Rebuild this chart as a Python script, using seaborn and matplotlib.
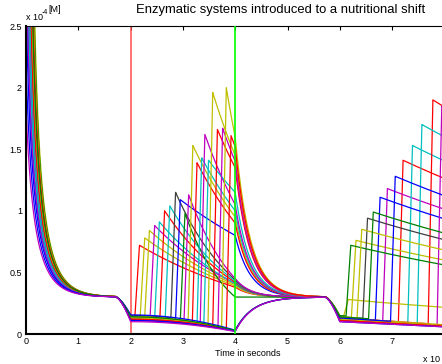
import numpy as np
import pandas as pd
import matplotlib
matplotlib.use("Agg")
import matplotlib.pyplot as plt
import seaborn as sns

# ---- curve colours (MATLAB-style line order) ----
B, G, R, C, M, Y, K = ("#0000ff", "#008000", "#ff0000", "#00bfbf",
                       "#bf00bf", "#bfbf00", "#404040")
curve_colors = [R, Y, Y, M, C, R, C, K, B, G, M, Y, R, C, M, C, Y, R, M, Y, R,
                B, G, B, M]

# time at which each curve falls through 1.0e-4 M during the first decay
cross_time = [0.30, 0.36, 0.33, 0.27, 0.29, 0.31, 0.25, 0.34, 0.23, 0.35,
              0.26, 0.32, 0.28, 0.24, 0.30, 0.27, 0.34, 0.29, 0.22, 0.31,
              0.33, 0.20, 0.32, 0.17, 0.14]

# level reached after the drop at t = 2 and at t = 6
low_level_1 = [0.13, 0.12, 0.14, 0.12, 0.13, 0.14, 0.12, 0.15, 0.14, 0.13,
               0.12, 0.14, 0.13, 0.12, 0.11, 0.13, 0.14, 0.12, 0.11, 0.13,
               0.12, 0.155, 0.14, 0.11, 0.10]
low_level_2 = [0.13, 0.14, 0.13, 0.12, 0.12, 0.13, 0.12, 0.14, 0.13, 0.15,
               0.12, 0.14, 0.12, 0.12, 0.11, 0.12, 0.13, 0.12, 0.11, 0.12,
               0.11, 0.13, 0.14, 0.10, 0.10]

# first shift: switch-on peak time, peak value, value just before t = 4
peak_time_1 = [2.17, 2.27, 2.36, 2.46, 2.55, 2.65, 2.75, 2.86, 2.95, 3.04,
               3.11, 3.19, 3.27, 3.36, 3.42, 3.49, 3.57, 3.66, 3.76, 3.83,
               3.92, None, None, None, None]
peak_value_1 = [0.72, 0.78, 0.84, 0.88, 0.91, 1.00, 1.04, 1.15, 1.09, 0.98,
                1.13, 1.53, 1.39, 1.43, 1.62, 1.41, 1.96, 1.66, 1.67, 2.00,
                1.61, None, None, None, None]
value_at_4 = [0.38, 0.39, 0.40, 0.41, 0.41, 0.42, 0.43, 0.44, 0.80, 0.30,
              0.45, 0.95, 0.90, 1.00, 1.05, 1.15, 1.45, 1.35, 1.40, 1.60,
              1.52, None, None, None, None]

# second shift: switch-on peak time and peak value
peak_time_2 = [7.21, 6.16, 6.31, 6.91, 7.39, 7.78, 7.57, 6.53, 6.77, 6.21,
               7.95, 6.42, None, None, None, None, None, None, None, None,
               None, 7.06, 6.64, None, None]
peak_value_2 = [1.41, 0.28, 0.76, 1.18, 1.53, 1.90, 1.70, 0.94, 1.11, 0.72,
                1.85, 0.85, None, None, None, None, None, None, None, None,
                None, 1.28, 0.99, None, None]

x_ticks = [0, 1, 2, 3, 4, 5, 6, 7, 8, 9, 10]
x_tick_labels = ["0", "1", "2", "3", "4", "5", "6", "7", "", "", ""]
y_ticks = [0, 0.5, 1, 1.5, 2, 2.5]
y_tick_labels = ["0", "0.5", "1", "1.5", "2", "2.5"]

BASE = 0.30            # steady-state concentration
RISE = 0.09            # duration of a switch-on ramp


def trajectory(t, i):
    v = np.empty_like(t)
    # initial consumption towards the steady state
    a, r = 3.5, 0.577
    c0 = (1 / 0.7 + r) * np.exp(-a * cross_time[i])
    u = c0 * np.exp(a * t) - r
    v_start = np.where(u > 0, BASE + 1 / np.maximum(u, 1e-9), 5.0)
    v[:] = np.minimum(v_start, 5.0)

    # drop after the first nutritional shift
    L1 = low_level_1[i]
    m = (t >= 1.72) & (t < 2.0)
    x = (t[m] - 1.72) / 0.28
    v[m] = BASE - (BASE - L1) * x ** 1.5

    # first shifted phase
    m = (t >= 2.0) & (t < 4.0)
    low = L1 * (1 - 0.2 * (t - 2.0) ** 2)
    v[m] = low[m]
    tp = peak_time_1[i]
    if tp is not None:
        P, v4 = peak_value_1[i], value_at_4[i]
        ts = tp - RISE
        rate = np.log(P / v4) / (4.0 - tp)
        lo_ts = L1 * (1 - 0.2 * (ts - 2.0) ** 2)
        mr = (t >= ts) & (t < tp)
        v[mr] = lo_ts + (P - lo_ts) * (t[mr] - ts) / RISE
        md = (t >= tp) & (t < 4.0)
        v[md] = P * np.exp(-rate * (t[md] - tp))
        end4 = v4
    else:
        end4 = L1 * (1 - 0.2 * 4.0)

    # relaxation back to the steady state
    m = (t >= 4.0) & (t < 5.72)
    k = 3.5 if end4 > BASE else 3.0
    v[m] = BASE + (end4 - BASE) * np.exp(-k * (t[m] - 4.0))
    v57 = BASE + (end4 - BASE) * np.exp(-k * 1.72)

    # drop after the second shift
    L2 = low_level_2[i]
    m = (t >= 5.72) & (t < 6.0)
    x = (t[m] - 5.72) / 0.28
    v[m] = v57 - (v57 - L2) * x ** 1.5

    # second shifted phase
    m = t >= 6.0
    low2 = L2 * (1 - 0.21 * (t - 6.0))
    v[m] = low2[m]
    tp = peak_time_2[i]
    if tp is not None:
        P = peak_value_2[i]
        ts = tp - RISE
        lo_ts = L2 * (1 - 0.21 * (ts - 6.0))
        mr = (t >= ts) & (t < tp)
        v[mr] = lo_ts + (P - lo_ts) * (t[mr] - ts) / RISE
        md = t >= tp
        v[md] = P * np.exp(-0.14 * (t[md] - tp))
    return v


key_times = [1.72, 2.0, 4.0, 5.72, 6.0]
for lst in (peak_time_1, peak_time_2):
    for tp in lst:
        if tp is not None:
            key_times += [tp - RISE, tp]
t = np.unique(np.concatenate([np.linspace(0, 10, 5001), key_times]))

frames = []
for i in range(len(curve_colors)):
    frames.append(pd.DataFrame({"t": t, "v": trajectory(t, i), "curve": i}))
df = pd.concat(frames, ignore_index=True)

sns.set_theme(style="white")
plt.rcParams["font.family"] = ["Liberation Sans", "DejaVu Sans"]

fig = plt.figure(figsize=(4.42, 3.64), dpi=100)
ax = fig.add_axes([26 / 442, 30 / 364, 523 / 442, 308 / 364])

palette = {i: c for i, c in enumerate(curve_colors)}
sns.lineplot(data=df, x="t", y="v", hue="curve", palette=palette,
             estimator=None, sort=False, legend=False, lw=0.9, ax=ax)

# shift markers
ax.axvline(2.0, color="#ff4d4d", lw=1.1, zorder=1)
ax.axvline(4.0, color="#00ff00", lw=1.2, zorder=5)

ax.set_xlim(0, 10)
ax.set_ylim(0, 2.5)
ax.set_xticks(x_ticks)
ax.set_xticklabels(x_tick_labels)
ax.set_yticks(y_ticks)
ax.set_yticklabels(y_tick_labels)
ax.set_xlabel("")
ax.set_ylabel("")
ax.tick_params(direction="in", top=True, right=True, length=3, width=0.8,
               labelsize=6.5, color="black", labelcolor="black")
ax.tick_params(axis="x", pad=2.5)
ax.tick_params(axis="y", pad=3)
for side, sp in ax.spines.items():
    sp.set_visible(True)
    sp.set_color("black")
    sp.set_linewidth(1.5 if side in ("left", "bottom") else 0.8)

W, H = 442, 364
fig.text(281 / W, 1 - 10 / H, "Enzymatic systems introduced to a nutritional shift",
         ha="center", va="center", fontsize=9.4, color="black")
fig.text(248 / W, 1 - 353 / H, "Time in seconds", ha="center", va="center",
         fontsize=6.5, color="black")
fig.text(423 / W, 1 - 359 / H, "x 10", ha="left", va="center",
         fontsize=6.5, color="black")
fig.text(26 / W, 1 - 18 / H, "x 10", ha="left", va="center",
         fontsize=6.5, color="black")
fig.text(42 / W, 1 - 13 / H, "-4", ha="left", va="center",
         fontsize=5, color="black")
fig.text(48 / W, 1 - 10 / H, "[M]", ha="left", va="center",
         fontsize=6.5, color="black")

fig.savefig("out.png", dpi=100)
